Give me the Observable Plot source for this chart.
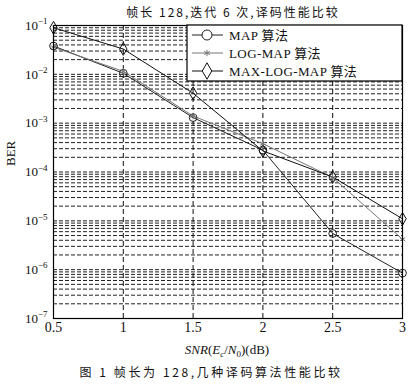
<!DOCTYPE html>
<html><head><meta charset="utf-8">
<script src="https://cdn.jsdelivr.net/npm/d3@7"></script>
<script src="https://cdn.jsdelivr.net/npm/@observablehq/plot@0.6"></script>
<style>
body{margin:0;background:#fff}
#chart{position:relative;width:411px;height:386px}
</style>
</head><body><div id="chart"></div>
<script>
const snr = [0.5, 1, 1.5, 2, 2.5, 3];
const berMAP = [0.038, 0.0105, 0.0013, 0.00028, 0.0000055, 0.00000085];
const berLogMAP = [0.036, 0.0115, 0.0014, 0.00038, 0.000077, 0.0000042];
const berMaxLogMAP = [0.09, 0.033, 0.0041, 0.00027, 0.000079, 0.000011];
const seriesNames = ["MAP 算法", "LOG-MAP 算法", "MAX-LOG-MAP 算法"];
const seriesSymbols = ["circle", "asterisk", "diamond"];
const seriesColors = ["#222", "#777", "#111"];
const xTicks = [0.5, 1, 1.5, 2, 2.5, 3];
const xTickLabels = ["0.5", "1", "1.5", "2", "2.5", "3"];
const yTicks = [1e-7, 1e-6, 1e-5, 1e-4, 1e-3, 1e-2, 1e-1];
const yTickExponents = ["−7", "−6", "−5", "−4", "−3", "−2", "−1"];
const titleText = "帧长 128,迭代 6 次,译码性能比较";
const captionText = "图 1 帧长为 128,几种译码算法性能比较";

const seriesValues = [berMAP, berLogMAP, berMaxLogMAP];
const rows = [];
seriesNames.forEach((name, s) => snr.forEach((x, i) => rows.push({series: name, snr: x, ber: seriesValues[s][i]})));
const gridY = [];
yTicks.slice(0, -1).forEach(d => { for (let k = 1; k <= 9; k++) gridY.push(d * k); });

const serif = '"Liberation Serif", "Noto Sans CJK SC", serif';
const cjk = '"Noto Sans CJK SC", sans-serif';
const chart = Plot.plot({
  width: 411, height: 386,
  marginTop: 25, marginBottom: 68, marginLeft: 53, marginRight: 9,
  style: {fontFamily: serif, fontSize: "13px", background: "#fff", color: "#111"},
  x: {domain: [0.5, 3]},
  y: {type: "log", domain: [1e-7, 1e-1]},
  symbol: {domain: seriesNames, range: seriesSymbols},
  color: {domain: seriesNames, range: seriesColors},
  marks: [
    Plot.ruleY(gridY, {stroke: "#222", strokeWidth: 1, strokeDasharray: "4,2"}),
    Plot.ruleX(xTicks.slice(1, -1), {stroke: "#111", strokeWidth: 1, strokeDasharray: "5,3"}),
    Plot.line(rows, {x: "snr", y: "ber", z: "series", stroke: "series", strokeWidth: 1}),
    Plot.dot(rows, {x: "snr", y: "ber", symbol: "series", stroke: "series", fill: "none", r: d => d.series === "LOG-MAP 算法" ? 3 : 5, strokeWidth: 1}),
    Plot.frame({stroke: "#000", strokeWidth: 1.2}),
    Plot.axisX(xTicks, {tickSize: 0, tickPadding: 4, tickFormat: d => xTickLabels[xTicks.indexOf(d)], label: null, fontSize: 14}),
    Plot.axisY(yTicks, {tickSize: 0, tickPadding: 6, tickFormat: d => "10|" + yTickExponents[yTicks.indexOf(d)], label: null, fontSize: 13}),
    Plot.text(["BER"], {frameAnchor: "left", dx: -43, dy: -6, rotate: -90, text: d => d, fontSize: 13})
  ]
});
document.getElementById("chart").appendChild(chart);

const svg = d3.select(chart);
// y tick labels: base 10 with raised exponent
svg.selectAll("text").each(function() {
  const t = d3.select(this);
  const s = t.text();
  if (s.startsWith("10|")) {
    const exp = s.slice(3);
    t.text(null);
    t.append("tspan").text("10");
    t.append("tspan").attr("font-size", 9).attr("dy", "-0.6em").text(exp);
  }
});
// title and caption
svg.append("text").attr("x", 233).attr("y", 17).attr("text-anchor", "middle")
  .attr("font-family", cjk).attr("font-size", 12).attr("letter-spacing", "2px").attr("fill", "#111").text(titleText);
svg.append("text").attr("x", 211).attr("y", 377).attr("text-anchor", "middle")
  .attr("font-family", cjk).attr("font-size", 12).attr("letter-spacing", "2.6px").attr("fill", "#111").text(captionText);
// x label with italics and subscripts
const xl = svg.append("text").attr("x", 227).attr("y", 354).attr("text-anchor", "middle")
  .attr("font-family", serif).attr("font-size", 13).attr("fill", "#111");
xl.append("tspan").attr("font-style", "italic").text("SNR");
xl.append("tspan").text("(");
xl.append("tspan").attr("font-style", "italic").text("E");
xl.append("tspan").attr("font-style", "italic").attr("font-size", 9).attr("dy", 3).text("c");
xl.append("tspan").attr("dy", -3).text("/");
xl.append("tspan").attr("font-style", "italic").text("N");
xl.append("tspan").attr("font-size", 9).attr("dy", 3).text("0");
xl.append("tspan").attr("dy", -3).text(")(dB)");

// legend box
const lg = svg.append("g").attr("transform", "translate(187,25)");
lg.append("rect").attr("width", 215).attr("height", 56).attr("fill", "#fff").attr("stroke", "#000").attr("stroke-width", 1.2);
const symMap = {circle: d3.symbolCircle, asterisk: d3.symbolAsterisk, diamond: d3.symbolDiamond};
seriesNames.forEach((name, i) => {
  const y = 10 + i * 18;
  lg.append("line").attr("x1", 5).attr("x2", 36).attr("y1", y).attr("y2", y).attr("stroke", seriesColors[i]).attr("stroke-width", 1);
  const r = i === 1 ? 3 : 5;
  lg.append("path").attr("transform", `translate(20,${y})`)
    .attr("d", d3.symbol(symMap[seriesSymbols[i]], Math.PI * r * r)())
    .attr("fill", "#fff").attr("stroke", seriesColors[i]);
  lg.append("text").attr("x", 42).attr("y", y).attr("dy", "0.35em").attr("text-anchor", "start")
    .attr("font-family", serif).attr("font-size", 13).attr("letter-spacing", "0.4px").attr("fill", "#111").text(name);
});
</script>
</body></html>
